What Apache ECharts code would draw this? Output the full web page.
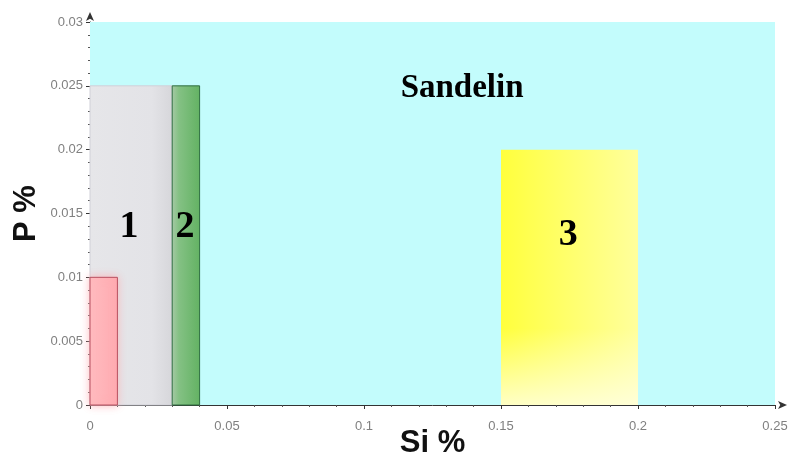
<!DOCTYPE html>
<html>
<head>
<meta charset="utf-8">
<script src="https://cdn.jsdelivr.net/npm/echarts@6/dist/echarts.min.js"></script>
<style>html,body{margin:0;padding:0;background:#fff;}#c{width:800px;height:466px;}</style>
</head>
<body>
<div id="c"></div>
<script>
// Regions (Si % range, P % upper limit)
const regionNames = ['Sandelin', '1', '2', '3', 'low'];
const regionXStart = [0, 0, 0.03, 0.15, 0];
const regionXEnd = [0.25, 0.03, 0.04, 0.2, 0.01];
const regionYTop = [0.03, 0.025, 0.025, 0.02, 0.01];

// Text labels
const labelTexts = ['Sandelin', '1', '2', '3'];
const labelX = [0.1358, 0.0142, 0.0347, 0.1745];
const labelY = [0.0248, 0.0139, 0.0139, 0.0133];
const labelSizes = [33, 38, 38, 38];

const G = echarts.graphic;
const regionStyles = [
  { fill: '#c3fcfc' },
  { fill: new G.LinearGradient(0, 0, 1, 0, [{offset: 0, color: '#e6e6e9'}, {offset: 0.75, color: '#e3e3e7'}, {offset: 1, color: '#d6d6da'}]), stroke: '#d0d0d8', lineWidth: 1 },
  { fill: new G.LinearGradient(0, 0, 1, 0, [{offset: 0, color: '#a7c9a7'}, {offset: 0.25, color: '#84c184'}, {offset: 1, color: '#63b263'}]), stroke: '#2f6e40', lineWidth: 1 },
  { fill: new G.LinearGradient(0, 0, 1, 0, [{offset: 0, color: '#ffff3c'}, {offset: 0.2, color: '#ffff50'}, {offset: 1, color: '#ffff9c'}]) },
  { fill: new G.LinearGradient(0, 0, 1, 0, [{offset: 0, color: '#ffbcc0'}, {offset: 1, color: '#ffaab0'}]), stroke: '#b85060', lineWidth: 1, shadowBlur: 8, shadowColor: 'rgba(255,170,175,0.8)' }
];
const overlayStyle = { fill: new G.LinearGradient(0, 0, 0, 1, [{offset: 0, color: 'rgba(255,255,230,0)'}, {offset: 0.7, color: 'rgba(255,255,230,0)'}, {offset: 1, color: 'rgba(255,255,230,0.8)'}]) };

const rectData = regionNames.map((n, i) => [regionXStart[i], regionXEnd[i], regionYTop[i], i]);
const labelData = labelTexts.map((t, i) => ({ name: t, value: [labelX[i], labelY[i]], label: { fontSize: labelSizes[i] } }));

const chart = echarts.init(document.getElementById('c'));
const tickLabel = { color: '#808080', fontSize: 13, fontFamily: 'Liberation Sans, Arial' };
chart.setOption({
  animation: false,
  grid: { left: 90, right: 25, top: 22, bottom: 61, containLabel: false, outerBoundsMode: 'none' },
  xAxis: {
    type: 'value', min: 0, max: 0.25, interval: 0.05,
    name: 'Si %', nameLocation: 'middle', nameGap: 23, nameMoveOverlap: false,
    nameTextStyle: { fontSize: 31, fontWeight: 'bold', color: '#111', fontFamily: 'Liberation Sans, Arial' },
    axisLine: { show: true, lineStyle: { color: '#333', width: 1 }, symbol: ['none', 'arrow'], symbolSize: [6, 9], symbolOffset: [0, 12] },
    axisTick: { show: true, length: 4, lineStyle: { color: '#333' } },
    minorTick: { show: true, splitNumber: 5, length: 2, lineStyle: { color: '#555' } },
    splitLine: { show: false },
    axisLabel: Object.assign({ margin: 15, formatter: v => String(+v.toFixed(3)) }, tickLabel)
  },
  yAxis: {
    type: 'value', min: 0, max: 0.03, interval: 0.005,
    name: 'P %', nameLocation: 'middle', nameGap: 48, nameRotate: 90, nameMoveOverlap: false,
    nameTextStyle: { fontSize: 31, fontWeight: 'bold', color: '#111', fontFamily: 'Liberation Sans, Arial' },
    axisLine: { show: true, lineStyle: { color: '#333', width: 1 }, symbol: ['none', 'arrow'], symbolSize: [6, 9], symbolOffset: [0, 10] },
    axisTick: { show: true, length: 4, lineStyle: { color: '#333' } },
    minorTick: { show: true, splitNumber: 5, length: 2, lineStyle: { color: '#555' } },
    splitLine: { show: false },
    axisLabel: Object.assign({ margin: 7, formatter: v => String(+v.toFixed(3)) }, tickLabel)
  },
  series: [
    {
      type: 'custom',
      data: rectData,
      z: 1,
      renderItem: function (params, api) {
        const idx = api.value(3);
        const p0 = api.coord([api.value(0), api.value(2)]);
        const p1 = api.coord([api.value(1), 0]);
        const shape = { x: p0[0], y: p0[1], width: p1[0] - p0[0], height: p1[1] - p0[1] };
        const children = [{ type: 'rect', shape: shape, style: regionStyles[idx] }];
        if (idx === 3) children.push({ type: 'rect', shape: shape, style: overlayStyle });
        return { type: 'group', children: children };
      }
    },
    {
      type: 'scatter',
      data: labelData,
      symbolSize: 0,
      itemStyle: { opacity: 1 },
      z: 5,
      label: {
        show: true, position: 'inside',
        formatter: p => p.name,
        fontFamily: 'Liberation Serif, Times New Roman, serif',
        fontWeight: 'bold', color: '#000',
        fontSize: 38
      }
    }
  ]
});
</script>
</body>
</html>
